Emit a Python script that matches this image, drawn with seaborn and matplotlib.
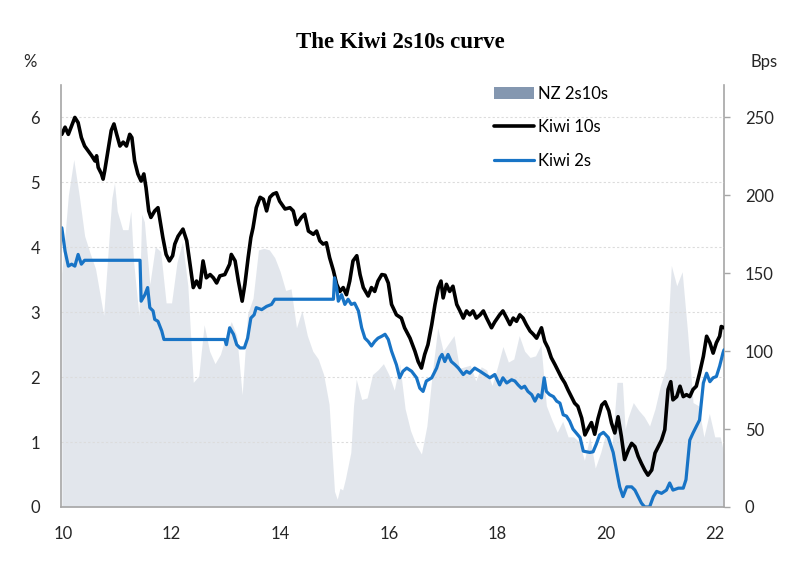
import matplotlib
matplotlib.use("Agg")
import matplotlib.pyplot as plt
import seaborn as sns
from matplotlib.patches import Patch
from matplotlib.lines import Line2D

# ------------------------------
# Data (decimal years)
# ------------------------------
ten_years = [9.98, 10.04, 10.10, 10.16, 10.22, 10.28, 10.34, 10.40, 10.46, 10.53,
             10.59, 10.62, 10.65, 10.71, 10.74, 10.77, 10.83, 10.89, 10.94, 10.99,
             11.05, 11.11, 11.17, 11.23, 11.27, 11.32, 11.38, 11.44, 11.49, 11.53,
             11.58, 11.62, 11.69, 11.75, 11.80, 11.84, 11.90, 11.96, 12.02, 12.06,
             12.12, 12.21, 12.28, 12.34, 12.40, 12.46, 12.52, 12.58, 12.64, 12.71,
             12.77, 12.83, 12.89, 12.98, 13.07, 13.10, 13.17, 13.23, 13.30, 13.35,
             13.41, 13.46, 13.50, 13.56, 13.63, 13.69, 13.75, 13.81, 13.87, 13.93,
             13.99, 14.09, 14.18, 14.24, 14.30, 14.39, 14.45, 14.52, 14.61, 14.67,
             14.73, 14.79, 14.85, 14.91, 14.98, 15.04, 15.10, 15.16, 15.22, 15.28,
             15.34, 15.41, 15.47, 15.53, 15.62, 15.68, 15.74, 15.80, 15.87, 15.93,
             15.99, 16.05, 16.14, 16.23, 16.29, 16.39, 16.48, 16.54, 16.60, 16.66,
             16.72, 16.79, 16.85, 16.91, 16.96, 17.00, 17.06, 17.12, 17.18, 17.25,
             17.31, 17.37, 17.43, 17.49, 17.55, 17.61, 17.68, 17.74, 17.80, 17.89,
             17.95, 18.04, 18.10, 18.17, 18.23, 18.29, 18.35, 18.41, 18.47, 18.53,
             18.60, 18.66, 18.72, 18.81, 18.87, 18.93, 18.99, 19.06, 19.12, 19.18,
             19.24, 19.30, 19.36, 19.42, 19.48, 19.55, 19.61, 19.67, 19.73, 19.79,
             19.85, 19.92, 19.98, 20.05, 20.10, 20.16, 20.22, 20.28, 20.34, 20.41,
             20.47, 20.53, 20.59, 20.65, 20.71, 20.77, 20.84, 20.90, 20.96, 21.02,
             21.08, 21.14, 21.19, 21.23, 21.30, 21.36, 21.42, 21.48, 21.54, 21.60,
             21.66, 21.72, 21.79, 21.85, 21.91, 21.97, 22.03, 22.09, 22.12, 22.17]
ten_vals = [5.74, 5.85, 5.74, 5.87, 6.00, 5.92, 5.69, 5.56, 5.49, 5.41,
            5.33, 5.41, 5.23, 5.13, 5.05, 5.18, 5.49, 5.80, 5.90, 5.74,
            5.56, 5.62, 5.56, 5.74, 5.69, 5.33, 5.13, 5.02, 5.13, 4.92,
            4.56, 4.46, 4.56, 4.61, 4.35, 4.15, 3.89, 3.79, 3.87, 4.05,
            4.17, 4.28, 4.10, 3.74, 3.38, 3.48, 3.38, 3.79, 3.53, 3.58,
            3.53, 3.45, 3.56, 3.58, 3.74, 3.89, 3.79, 3.48, 3.17, 3.43,
            3.84, 4.15, 4.30, 4.61, 4.77, 4.74, 4.56, 4.77, 4.82, 4.84,
            4.71, 4.59, 4.61, 4.56, 4.35, 4.46, 4.51, 4.25, 4.20, 4.25,
            4.10, 4.05, 4.07, 3.84, 3.64, 3.43, 3.32, 3.38, 3.27, 3.48,
            3.79, 3.87, 3.58, 3.38, 3.25, 3.38, 3.32, 3.48, 3.58, 3.57,
            3.45, 3.12, 2.96, 2.91, 2.76, 2.60, 2.40, 2.24, 2.14, 2.35,
            2.50, 2.81, 3.12, 3.38, 3.48, 3.22, 3.43, 3.32, 3.40, 3.12,
            3.02, 2.91, 3.02, 2.96, 3.02, 2.91, 2.96, 3.02, 2.91, 2.76,
            2.85, 2.96, 3.02, 2.91, 2.81, 2.91, 2.86, 2.96, 2.91, 2.81,
            2.71, 2.66, 2.60, 2.76, 2.55, 2.45, 2.30, 2.19, 2.09, 1.99,
            1.91, 1.80, 1.70, 1.60, 1.55, 1.37, 1.11, 1.21, 1.30, 1.12,
            1.36, 1.57, 1.62, 1.48, 1.29, 1.14, 1.39, 1.09, 0.73, 0.88,
            0.98, 0.93, 0.78, 0.67, 0.57, 0.49, 0.57, 0.83, 0.93, 1.03,
            1.19, 1.81, 1.93, 1.65, 1.70, 1.86, 1.70, 1.73, 1.70, 1.81,
            1.86, 2.06, 2.32, 2.63, 2.53, 2.37, 2.53, 2.63, 2.78, 2.76]

two_years = [9.98, 10.04, 10.10, 10.16, 10.22, 10.28, 10.34, 10.40, 11.42, 11.44,
             11.51, 11.56, 11.60, 11.66, 11.69, 11.75, 11.82, 11.86, 12.98, 13.01,
             13.07, 13.14, 13.20, 13.26, 13.34, 13.40, 13.46, 13.52, 13.56, 13.66,
             13.75, 13.84, 13.90, 14.98, 15.00, 15.04, 15.07, 15.13, 15.19, 15.25,
             15.31, 15.37, 15.44, 15.50, 15.56, 15.62, 15.68, 15.74, 15.80, 15.87,
             15.93, 15.99, 16.05, 16.14, 16.20, 16.26, 16.33, 16.42, 16.51, 16.57,
             16.63, 16.69, 16.79, 16.88, 16.94, 16.98, 17.03, 17.09, 17.15, 17.22,
             17.28, 17.37, 17.43, 17.49, 17.58, 17.68, 17.77, 17.86, 17.95, 18.04,
             18.10, 18.17, 18.26, 18.32, 18.38, 18.44, 18.50, 18.56, 18.63, 18.69,
             18.75, 18.81, 18.86, 18.90, 18.96, 19.03, 19.09, 19.15, 19.21, 19.27,
             19.33, 19.39, 19.45, 19.52, 19.58, 19.64, 19.70, 19.76, 19.82, 19.88,
             19.95, 20.04, 20.13, 20.19, 20.25, 20.31, 20.38, 20.47, 20.53, 20.59,
             20.65, 20.71, 20.80, 20.87, 20.93, 21.02, 21.11, 21.17, 21.23, 21.33,
             21.42, 21.47, 21.54, 21.60, 21.66, 21.72, 21.79, 21.85, 21.91, 21.97,
             22.03, 22.09, 22.15, 22.17]
two_vals = [4.30, 3.94, 3.71, 3.74, 3.71, 3.89, 3.74, 3.80, 3.80, 3.17,
            3.27, 3.38, 3.07, 3.02, 2.89, 2.86, 2.71, 2.58, 2.58, 2.50,
            2.76, 2.66, 2.50, 2.45, 2.45, 2.60, 2.91, 2.96, 3.07, 3.04,
            3.09, 3.12, 3.20, 3.20, 3.53, 3.38, 3.17, 3.27, 3.12, 3.20,
            3.12, 3.14, 3.02, 2.76, 2.60, 2.55, 2.48, 2.55, 2.60, 2.63,
            2.66, 2.58, 2.40, 2.19, 1.99, 2.09, 2.14, 2.09, 1.99, 1.83,
            1.78, 1.94, 1.99, 2.14, 2.30, 2.35, 2.24, 2.35, 2.24, 2.19,
            2.14, 2.04, 2.09, 2.06, 2.14, 2.09, 2.04, 1.99, 2.04, 1.88,
            1.99, 1.91, 1.96, 1.94, 1.88, 1.83, 1.86, 1.78, 1.73, 1.63,
            1.73, 1.68, 1.99, 1.78, 1.73, 1.70, 1.63, 1.60, 1.42, 1.40,
            1.32, 1.20, 1.14, 1.07, 0.86, 0.85, 0.84, 0.85, 0.97, 1.11,
            1.15, 1.07, 0.84, 0.57, 0.31, 0.16, 0.31, 0.31, 0.26, 0.16,
            0.06, 0.00, 0.00, 0.16, 0.24, 0.21, 0.26, 0.37, 0.26, 0.29,
            0.29, 0.42, 1.03, 1.14, 1.24, 1.34, 1.91, 2.06, 1.93, 1.99,
            2.01, 2.17, 2.37, 2.42]

spread_years = [9.98, 10.1, 10.2, 10.3, 10.4, 10.5, 10.6, 10.7, 10.75, 10.8,
                10.9, 10.95, 11.0, 11.1, 11.2, 11.25, 11.3, 11.4, 11.45, 11.5,
                11.6, 11.7, 11.8, 11.9, 12.0, 12.1, 12.2, 12.3, 12.4, 12.5,
                12.6, 12.7, 12.8, 12.9, 13.0, 13.1, 13.2, 13.3, 13.4, 13.5,
                13.6, 13.7, 13.8, 13.9, 14.0, 14.1, 14.2, 14.3, 14.4, 14.5,
                14.6, 14.7, 14.8, 14.9, 15.0, 15.05, 15.1, 15.15, 15.2, 15.3,
                15.35, 15.4, 15.5, 15.6, 15.7, 15.8, 15.9, 16.0, 16.1, 16.2,
                16.3, 16.4, 16.5, 16.6, 16.7, 16.8, 16.9, 17.0, 17.1, 17.2,
                17.3, 17.4, 17.5, 17.6, 17.7, 17.8, 17.9, 18.0, 18.1, 18.2,
                18.3, 18.4, 18.5, 18.6, 18.7, 18.8, 18.9, 19.0, 19.1, 19.2,
                19.3, 19.4, 19.5, 19.6, 19.7, 19.8, 19.9, 20.0, 20.1, 20.2,
                20.3, 20.35, 20.4, 20.5, 20.6, 20.7, 20.8, 20.9, 21.0, 21.1,
                21.2, 21.3, 21.4, 21.5, 21.6, 21.7, 21.8, 21.9, 22.0, 22.1,
                22.17]
spread_bps = [150, 200, 223, 200, 174, 163, 153, 133, 123, 148,
              198, 208, 190, 178, 178, 190, 158, 123, 188, 183,
              143, 167, 164, 131, 131, 157, 170, 142, 80, 84,
              117, 100, 92, 98, 110, 119, 110, 72, 124, 134,
              165, 166, 165, 160, 151, 139, 140, 115, 126, 110,
              100, 95, 85, 66, 10, 5, 12, 11, 18, 35,
              65, 82, 69, 70, 85, 88, 92, 85, 75, 92,
              63, 49, 40, 34, 52, 86, 115, 100, 105, 110,
              89, 90, 91, 81, 90, 88, 78, 90, 103, 93,
              95, 110, 100, 96, 97, 104, 65, 56, 48, 55,
              45, 45, 42, 30, 45, 25, 35, 48, 35, 80,
              80, 50, 57, 67, 62, 58, 52, 63, 78, 89,
              155, 142, 151, 112, 67, 65, 45, 60, 45, 45,
              34]

x_ticks = [10, 12, 14, 16, 18, 20, 22]
x_labels = ["10", "12", "14", "16", "18", "20", "22"]

# ------------------------------
# Style
# ------------------------------
sns.set_style("white")
plt.rcParams['font.family'] = ['Lato', 'DejaVu Sans']
axis_grey = '#A6A6A6'
text_col = '#262626'
fill_col = '#8497B0'
blue = '#1874C6'

fig = plt.figure(figsize=(8, 5.64), dpi=100)
ax = fig.add_axes([0.07625, 0.1011, 0.82875, 0.7482])
ax2 = ax.twinx()

# spread area on the right (bps) axis, drawn behind the lines
ax2.fill_between(spread_years, spread_bps, 0, color=fill_col, alpha=0.23, lw=0)
ax.set_zorder(ax2.get_zorder() + 1)
ax.patch.set_visible(False)

sns.lineplot(x=ten_years, y=ten_vals, ax=ax, color='black', lw=2.6,
             estimator=None, sort=False, legend=False)
sns.lineplot(x=two_years, y=two_vals, ax=ax, color=blue, lw=2.3,
             estimator=None, sort=False, legend=False)

ax.set_xlim(9.965, 22.17)
ax.set_ylim(0, 6.5)
ax2.set_ylim(0, 6.5 * 250 / 6)
ax.set_xticks(x_ticks)
ax.set_xticklabels(x_labels)
ax.set_yticks(range(7))
ax2.set_yticks([0, 50, 100, 150, 200, 250])
ax.set_xlabel("")
ax.set_ylabel("")

ax.yaxis.grid(True, color='#DCDCDC', linestyle=(0, (2, 2)), lw=0.8)
ax.set_axisbelow(True)

ax.tick_params(axis='y', length=0, pad=15, labelsize=12, labelcolor=text_col)
ax.tick_params(axis='x', length=0, pad=14, labelsize=12, labelcolor=text_col)
ax2.tick_params(axis='y', length=4, width=1, color=axis_grey, pad=11,
                labelsize=12, labelcolor=text_col)

for s in ['top', 'right']:
    ax.spines[s].set_visible(False)
for s in ['top', 'left', 'bottom']:
    ax2.spines[s].set_visible(False)
for sp in [ax.spines['left'], ax.spines['bottom'], ax2.spines['right']]:
    sp.set_color(axis_grey)
    sp.set_linewidth(1.2)

# ------------------------------
# Texts and legend
# ------------------------------
fig.text(0.501, 0.9255, "The Kiwi 2s10s curve", ha='center', va='center',
         fontsize=16.5, fontweight='bold', family=['Liberation Serif', 'DejaVu Serif'],
         color='black')
fig.text(30 / 800, 1 - 62 / 564, "%", ha='center', va='center', fontsize=12, color=text_col)
fig.text(764 / 800, 1 - 62 / 564, "Bps", ha='center', va='center', fontsize=12, color=text_col)

handles = [Patch(facecolor=fill_col, edgecolor='none'),
           Line2D([], [], color='black', lw=2.6),
           Line2D([], [], color=blue, lw=2.3)]
labels = ["NZ 2s10s", "Kiwi 10s", "Kiwi 2s"]
fig.legend(handles, labels, loc='upper left', bbox_to_anchor=(0.617, 0.848),
           frameon=False, fontsize=12, handlelength=2.4, handletextpad=0.25,
           labelspacing=1.05, borderpad=0, borderaxespad=0, labelcolor='black')

fig.savefig("out.png", dpi=100)
plt.close()
